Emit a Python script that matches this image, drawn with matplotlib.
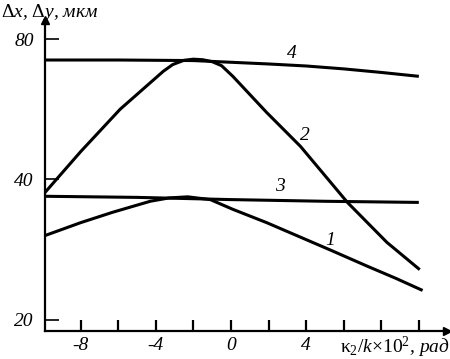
import matplotlib
matplotlib.use("Agg")
import matplotlib.pyplot as plt
from matplotlib.ticker import FixedLocator, FuncFormatter, NullLocator

# ---- data ----
x1 = [-9.9, -8.0, -6.3, -4.3, -3.3, -2.3, -1.1, 0.1, 1.9, 3.5, 5.3, 7.2, 8.8, 10.2]
y1 = [30.3, 32.3, 34.0, 35.9, 36.5, 36.7, 36.2, 34.5, 32.3, 30.3, 28.2, 26.1, 24.5, 23.1]

x2 = [-9.9, -8.0, -5.9, -3.6, -3.1, -2.5, -2.0, -1.5, -1.0, -0.5, 0.1, 1.9, 3.7, 6.2, 8.3, 10.05]
y2 = [37.5, 45.9, 56.6, 68.3, 70.6, 72.1, 72.5, 72.3, 71.6, 70.2, 66.6, 55.7, 47.1, 35.7, 29.3, 25.6]

x3 = [-9.9, -5.0, 0.0, 5.0, 10.0]
y3 = [36.8, 36.6, 36.2, 35.9, 35.7]

x4 = [-9.9, -6.0, -2.0, 0.0, 2.0, 4.0, 6.0, 8.0, 10.0]
y4 = [72.2, 72.2, 72.0, 71.4, 70.8, 70.1, 69.1, 67.9, 66.6]

series = [(x1, y1, "1"), (x2, y2, "2"), (x3, y3, "3"), (x4, y4, "4")]
xticks = [-8, -6, -4, -2, 0, 2, 4, 6, 8, 10]
xlabeled = [-8, -4, 0, 4]
yticks = [20, 40, 80]

plt.rcParams['mathtext.fontset'] = 'custom'
plt.rcParams['mathtext.rm'] = 'Liberation Serif'
plt.rcParams['mathtext.it'] = 'Liberation Serif:italic'
serif = ['Liberation Serif', 'DejaVu Serif']

fig = plt.figure(figsize=(4.5, 3.59), dpi=100)
ax = fig.add_axes([45/450, 1 - 331/359, (447 - 45)/450, (331 - 20)/359])

for xs, ys, _ in series:
    ax.plot(xs, ys, color='black', lw=2.2, solid_capstyle='butt', solid_joinstyle='round')

ax.set_yscale('log')
ax.set_xlim(-9.9, 11.5)
ax.set_ylim(18.9, 88)

ax.spines['top'].set_visible(False)
ax.spines['right'].set_visible(False)
for s in ('left', 'bottom'):
    ax.spines[s].set_linewidth(1.6)

ax.xaxis.set_major_locator(FixedLocator(xticks))
ax.xaxis.set_major_formatter(FuncFormatter(
    lambda v, p: (f"{int(round(v))}" if int(round(v)) in xlabeled else "")))
ax.yaxis.set_major_locator(FixedLocator(yticks))
ax.yaxis.set_major_formatter(FuncFormatter(lambda v, p: f"{int(round(v))}"))
ax.yaxis.set_minor_locator(NullLocator())
ax.xaxis.set_minor_locator(NullLocator())

ax.tick_params(axis='x', direction='in', length=8, width=1.6, pad=4, labelsize=14)
ax.tick_params(axis='y', direction='in', length=10, width=1.2, pad=8, labelsize=14)
for lab in ax.get_xticklabels() + ax.get_yticklabels():
    lab.set_fontfamily(serif)
    lab.set_fontstyle('italic')

# arrows on axes
ax.plot(1, 0, marker='>', color='black', markersize=6, transform=ax.transAxes, clip_on=False)
ax.plot(0, 1, marker='^', color='black', markersize=6, transform=ax.transAxes, clip_on=False)

# curve labels
labels_pos = {"1": (5.3, 29.6), "2": (3.95, 49.8), "3": (2.6, 38.6), "4": (3.25, 74.5)}
for _, _, name in series:
    px, py = labels_pos[name]
    ax.text(px, py, name, fontsize=14, family=serif, style='italic',
            ha='center', va='center')

fig.text(0.003, 0.995, r"$\mathrm{\Delta}x$, $\mathrm{\Delta}y$, мкм", fontsize=14,
         family=serif, style='italic', ha='left', va='top')
fig.text(0.999, 0.033, r"$\mathrm{\kappa_2}/k\mathrm{\times}10^2$, рад", fontsize=14,
         family=serif, style='italic', ha='right', va='center')

fig.savefig("out.png", dpi=100)
